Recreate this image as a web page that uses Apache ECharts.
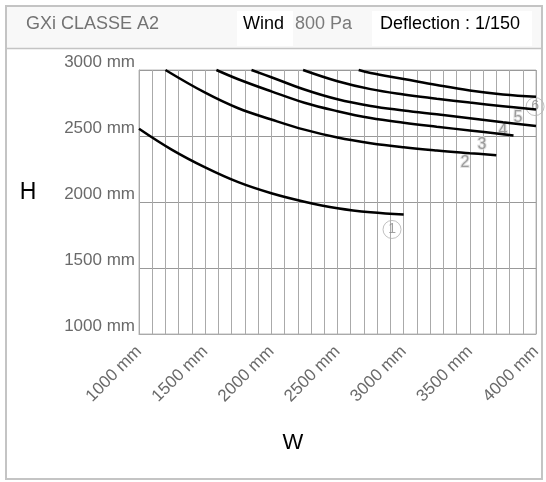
<!DOCTYPE html>
<html>
<head>
<meta charset="utf-8">
<script src="https://cdn.jsdelivr.net/npm/echarts@6/dist/echarts.min.js"></script>
<style>
  html, body { margin: 0; padding: 0; background: #fff; }
  #chart { width: 546px; height: 482px; }
</style>
</head>
<body>
<div id="chart"></div>
<script>
// curves: [W mm, H mm]
const curve1 = [[1000, 2555], [1250, 2395], [1500, 2262], [1750, 2150], [2000, 2066], [2250, 2002], [2500, 1953], [2750, 1922], [3000, 1905]]
const curve2 = [[1200, 3000], [1500, 2828], [1750, 2710], [2000, 2625], [2250, 2548], [2500, 2488], [2750, 2445], [3000, 2414], [3250, 2390], [3500, 2370], [3700, 2355]]
const curve3 = [[1585, 3000], [1750, 2930], [2000, 2838], [2250, 2752], [2500, 2688], [2750, 2636], [3000, 2600], [3250, 2570], [3500, 2542], [3830, 2504]]
const curve4 = [[1850, 3000], [2000, 2945], [2250, 2852], [2500, 2778], [2750, 2728], [3000, 2694], [3250, 2664], [3500, 2634], [3750, 2604], [4000, 2575]]
const curve5 = [[2240, 3000], [2500, 2915], [2750, 2855], [3000, 2815], [3250, 2783], [3500, 2753], [3750, 2726], [4000, 2700]]
const curve6 = [[2660, 3000], [2750, 2977], [3000, 2932], [3250, 2886], [3500, 2845], [3750, 2815], [4000, 2797]]
const curves = [curve1, curve2, curve3, curve4, curve5, curve6]

// curve numbers: [W, H, text, circled]
const curveLabels = [[2912, 1792, '1', true], [3464, 2299, '2', false], [3592, 2436, '3', false], [3751, 2542, '4', false], [3864, 2640, '5', false], [3993, 2723, '6', true]]

const xMin = 1000, xMax = 4000, xStep = 500
const yMin = 1000, yMax = 3000, yStep = 500

const title = 'GXi CLASSE A2'
const windLabel = 'Wind'
const windValue = '800 Pa'
const deflection = 'Deflection : 1/150'

const fontFamily = 'Liberation Sans, Arial, sans-serif'
const axisFont = { fontFamily, fontSize: 17, color: '#6a6a6a' }

const chart = echarts.init(document.getElementById('chart'))

const lineSeries = curves.map((c, i) => ({
  name: 'c' + (i + 1),
  type: 'line',
  data: c,
  smooth: 0.4,
  showSymbol: false,
  silent: true,
  clip: false,
  lineStyle: { color: '#000', width: 2.5 },
}))

const labelSeries = {
  type: 'scatter',
  symbolSize: 0,
  silent: true,
  clip: false,
  data: curveLabels.map(l => ({ value: [l[0], l[1]], name: l[2], circled: l[3] })),
  label: {
    show: true,
    position: 'inside',
    formatter: p => (p.data.circled ? '{c|' + p.name + '}' : '{n|' + p.name + '}'),
    rich: {
      c: {
        fontFamily, fontSize: 14, color: '#8a8a8a',
        width: 18, height: 18, lineHeight: 18, align: 'center',
        borderColor: '#b0b0b0', borderWidth: 1, borderRadius: 10,
      },
      n: {
        fontFamily, fontSize: 16, color: '#8a8a8a',
        textBorderColor: '#dcdcdc', textBorderWidth: 2,
      },
    },
  },
}

const option = {
  animation: false,
  backgroundColor: '#fff',
  grid: { left: 139, top: 70, width: 397, height: 264, show: true, borderColor: '#bbb', borderWidth: 1 },
  xAxis: {
    type: 'value',
    min: xMin, max: xMax, interval: xStep,
    axisLine: { show: true, lineStyle: { color: '#aaa' } },
    axisTick: { show: false },
    minorTick: { show: false, splitNumber: 5 },
    splitLine: { show: true, lineStyle: { color: '#aaa', width: 1 } },
    minorSplitLine: { show: true, lineStyle: { color: '#aaa', width: 1 } },
    axisLabel: { ...axisFont, rotate: 45, margin: 15, formatter: v => v + ' mm' },
  },
  yAxis: {
    type: 'value',
    min: yMin, max: yMax, interval: yStep,
    axisLine: { show: true, lineStyle: { color: '#aaa' } },
    axisTick: { show: false },
    splitLine: { show: true, lineStyle: { color: '#999', width: 1 } },
    axisLabel: { ...axisFont, margin: 4, verticalAlign: 'bottom', lineHeight: 16, formatter: v => v + ' mm' },
  },
  graphic: [
    { type: 'rect', z: -10, shape: { x: 6, y: 6, width: 536, height: 473 }, style: { fill: '#fff', stroke: '#c4c4c4', lineWidth: 2 } },
    { type: 'rect', z: -9, shape: { x: 7, y: 7, width: 534, height: 41 }, style: { fill: '#f8f8f8' } },
    { type: 'line', z: -9, shape: { x1: 6, y1: 48.5, x2: 542, y2: 48.5 }, style: { stroke: '#c4c4c4', lineWidth: 1.5 } },
    { type: 'rect', z: -8, shape: { x: 237, y: 11, width: 56, height: 35 }, style: { fill: '#fff' } },
    { type: 'rect', z: -8, shape: { x: 372, y: 11, width: 160, height: 35 }, style: { fill: '#fff' } },
    { type: 'text', left: 26, top: 15, style: { text: title, fontFamily, fontSize: 18, fill: '#737373' } },
    { type: 'text', left: 243, top: 15, style: { text: windLabel, fontFamily, fontSize: 18, fill: '#000' } },
    { type: 'text', left: 295, top: 15, style: { text: windValue, fontFamily, fontSize: 18, fill: '#7a7a7a' } },
    { type: 'text', left: 380, top: 15, style: { text: deflection, fontFamily, fontSize: 18, fill: '#000' } },
    { type: 'text', x: 28, y: 193, style: { text: 'H', fontFamily, fontSize: 23, fill: '#000', align: 'center', verticalAlign: 'middle' } },
    { type: 'text', x: 293, y: 443, style: { text: 'W', fontFamily, fontSize: 22, fill: '#000', align: 'center', verticalAlign: 'middle' } },
  ],
  series: [...lineSeries, labelSeries],
}

chart.setOption(option)
</script>
</body>
</html>
